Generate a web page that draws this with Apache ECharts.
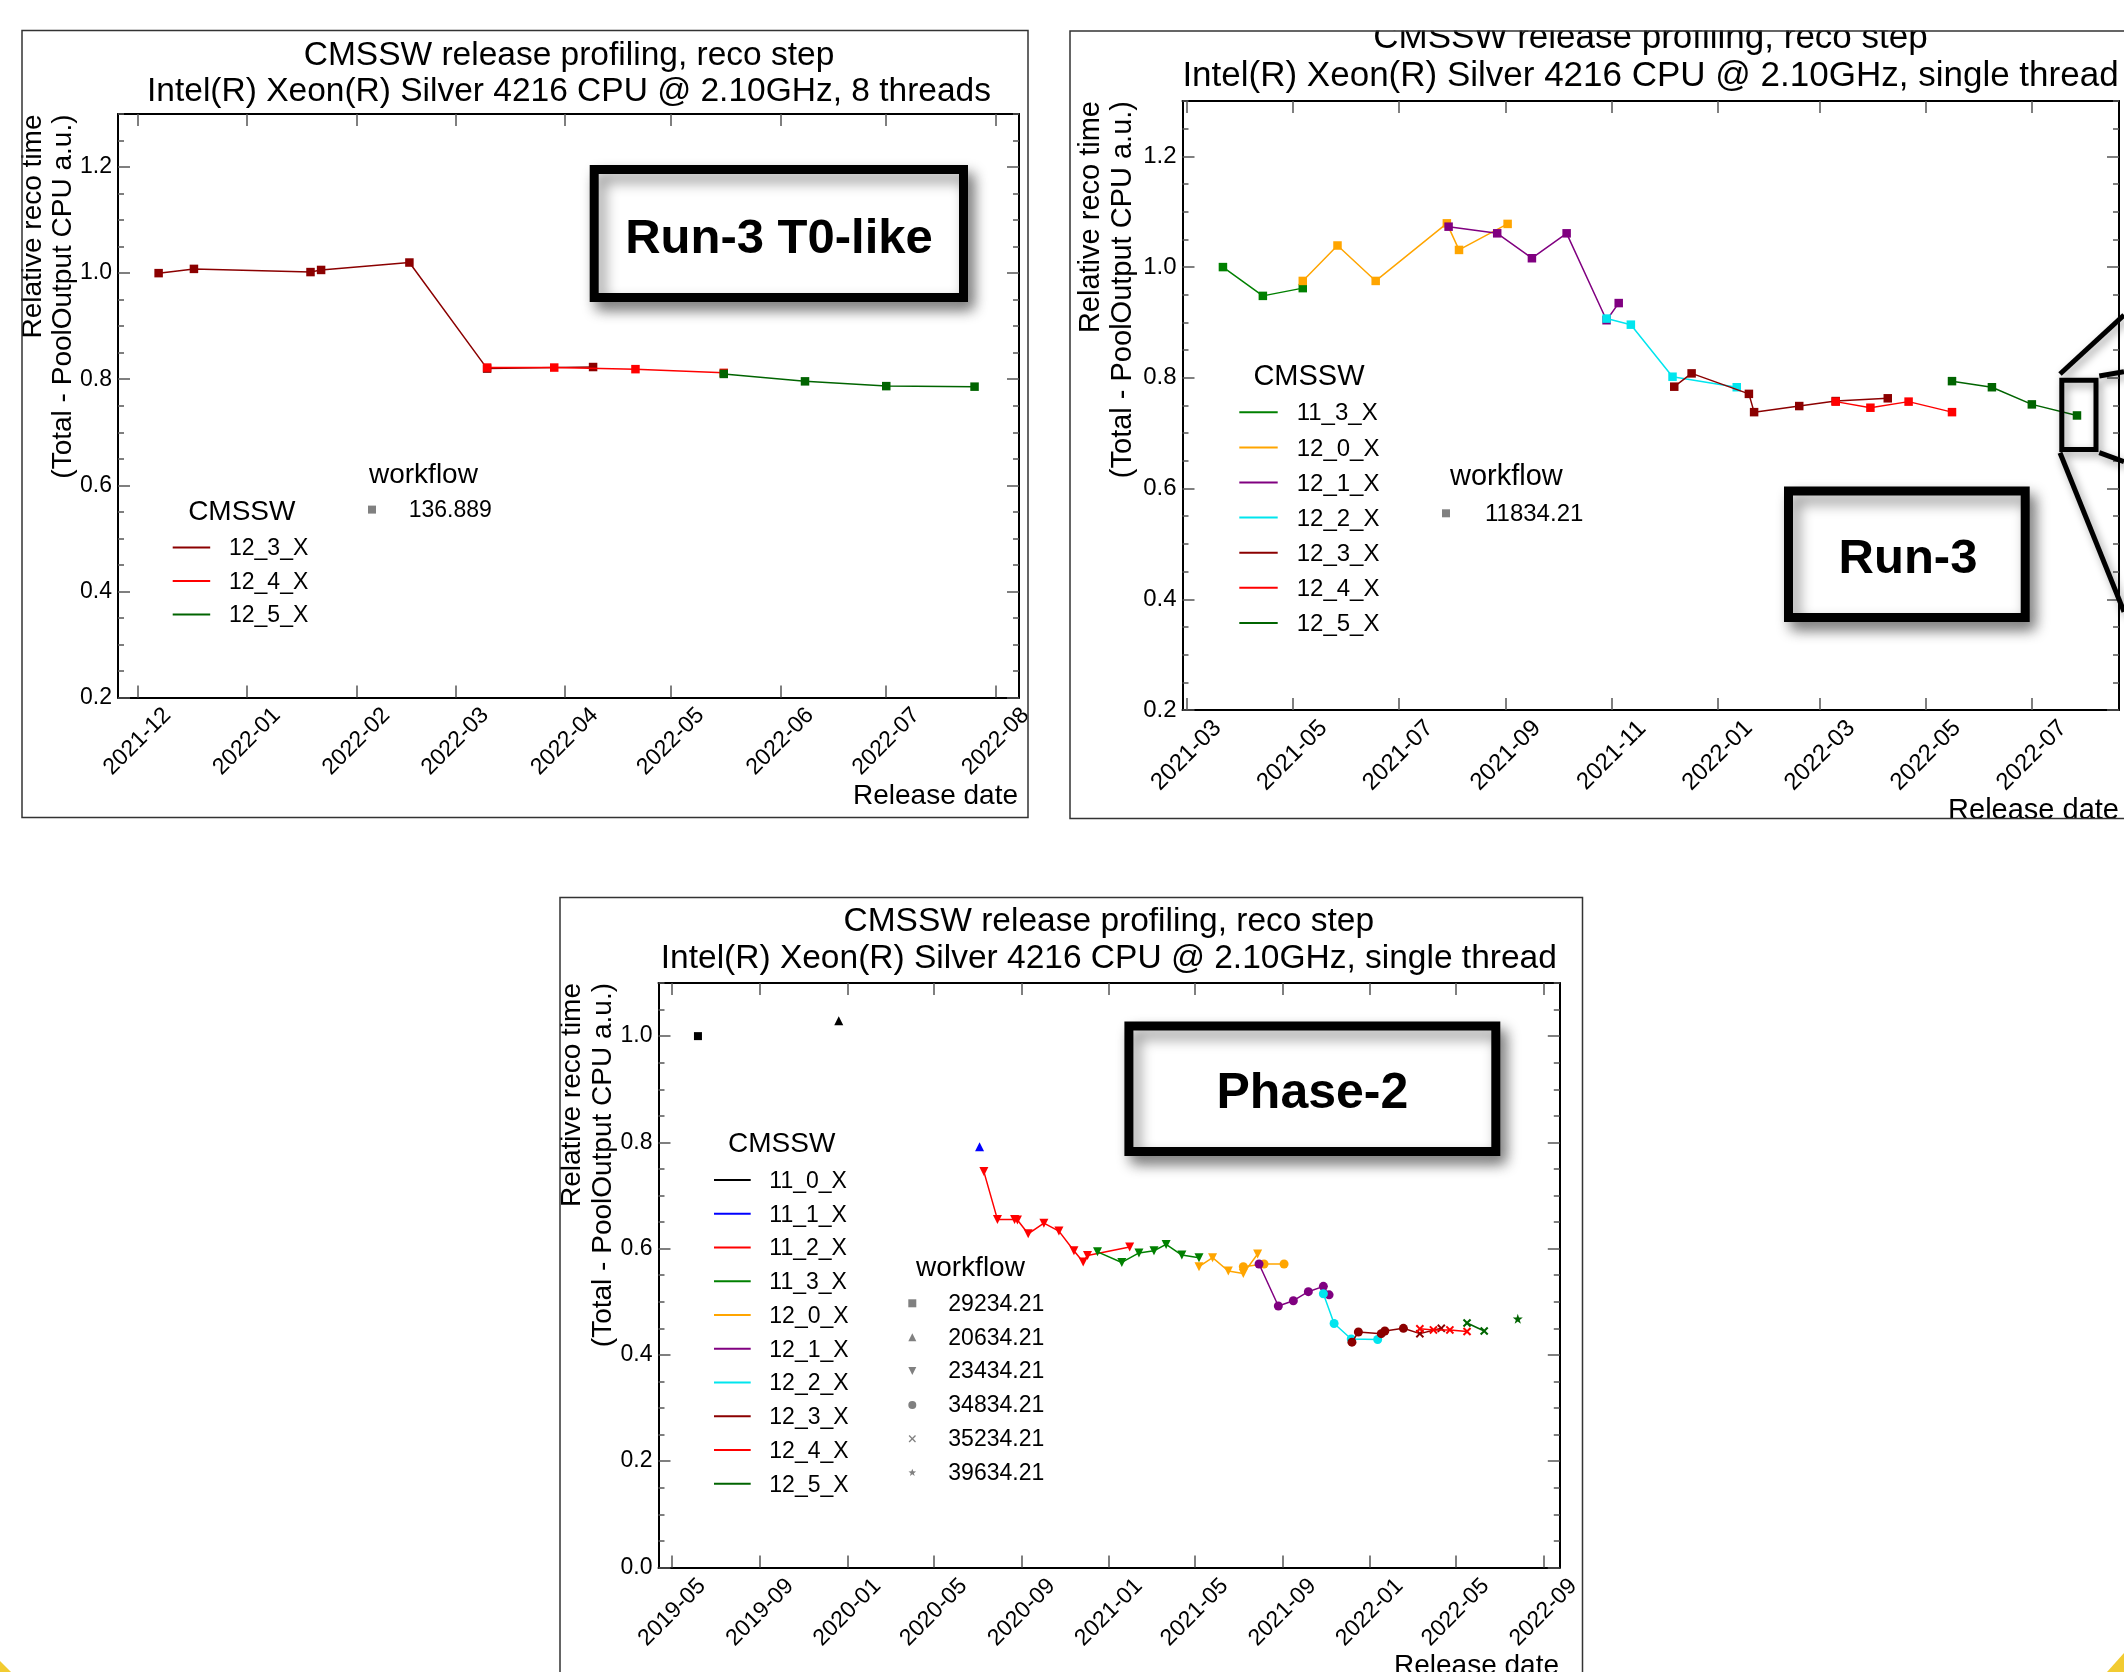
<!DOCTYPE html>
<html><head><meta charset="utf-8">
<script src="https://cdn.jsdelivr.net/npm/echarts@6/dist/echarts.min.js"></script>
<style>html,body{margin:0;padding:0;background:#fff}#c{width:2124px;height:1672px}</style>
</head><body><div id="c"></div>
<script>
// ---------------- DATA ----------------
// Panel 1: Run-3 T0-like, 8 threads (workflow 136.889)
const t0Releases = ['12_3_X', '12_4_X', '12_5_X'];
const t0Workflows = ['136.889'];
const t0XTicks = ['2021-12-01','2022-01-01','2022-02-01','2022-03-01','2022-04-01','2022-05-01','2022-06-01','2022-07-01','2022-08-01'];
const t0YTicks = [0.2, 0.4, 0.6, 0.8, 1.0, 1.2];
const t0_12_3_X = [['2021-12-07',1.000],['2021-12-17',1.008],['2022-01-19',1.002],['2022-01-22',1.006],['2022-02-16',1.020],['2022-03-10',0.820],['2022-04-09',0.823]];
const t0_12_4_X = [['2022-03-10',0.822],['2022-03-29',0.822],['2022-04-21',0.819],['2022-05-16',0.812]];
const t0_12_5_X = [['2022-05-16',0.810],['2022-06-08',0.796],['2022-07-01',0.787],['2022-07-26',0.786]];

// Panel 2: Run-3, single thread (workflow 11834.21)
const r3Releases = ['11_3_X','12_0_X','12_1_X','12_2_X','12_3_X','12_4_X','12_5_X'];
const r3Workflows = ['11834.21'];
const r3XTicks = ['2021-03-01','2021-05-01','2021-07-01','2021-09-01','2021-11-01','2022-01-01','2022-03-01','2022-05-01','2022-07-01'];
const r3YTicks = [0.2, 0.4, 0.6, 0.8, 1.0, 1.2];
const r3_11_3_X = [['2021-03-22',1.000],['2021-04-14',0.948],['2021-05-07',0.962]];
const r3_12_0_X = [['2021-05-07',0.975],['2021-05-27',1.039],['2021-06-18',0.975],['2021-07-29',1.079],['2021-08-05',1.031],['2021-09-02',1.078]];
const r3_12_1_X = [['2021-07-30',1.073],['2021-08-27',1.061],['2021-09-16',1.016],['2021-10-06',1.061],['2021-10-29',0.904],['2021-11-05',0.935]];
const r3_12_2_X = [['2021-10-29',0.907],['2021-11-12',0.896],['2021-12-06',0.802],['2022-01-12',0.783]];
const r3_12_3_X = [['2021-12-07',0.784],['2021-12-17',0.808],['2022-01-19',0.771],['2022-01-22',0.738],['2022-02-17',0.749],['2022-03-10',0.758],['2022-04-09',0.763]];
const r3_12_4_X = [['2022-03-10',0.757],['2022-03-30',0.746],['2022-04-21',0.757],['2022-05-16',0.738]];
const r3_12_5_X = [['2022-05-16',0.794],['2022-06-08',0.783],['2022-07-01',0.752],['2022-07-27',0.732]];

// Panel 3: Phase-2, single thread; third field = workflow index
const ph2Releases = ['11_0_X','11_1_X','11_2_X','11_3_X','12_0_X','12_1_X','12_2_X','12_3_X','12_4_X','12_5_X'];
const ph2Workflows = ['29234.21','20634.21','23434.21','34834.21','35234.21','39634.21'];
const ph2XTicks = ['2019-05-01','2019-09-01','2020-01-01','2020-05-01','2020-09-01','2021-01-01','2021-05-01','2021-09-01','2022-01-01','2022-05-01','2022-09-01'];
const ph2YTicks = [0.0, 0.2, 0.4, 0.6, 0.8, 1.0];
const ph2_11_0_X_a = [['2019-06-06',1.000,0]];
const ph2_11_0_X_b = [['2019-12-20',1.029,1]];
const ph2_11_1_X = [['2020-07-04',0.792,1]];
const ph2_11_2_X = [['2020-07-10',0.745,2],['2020-07-29',0.655,2],['2020-08-22',0.655,2],['2020-08-26',0.654,2],['2020-09-10',0.628,2],['2020-10-02',0.648,2],['2020-10-23',0.633,2],['2020-11-13',0.596,2],['2020-11-26',0.575,2],['2020-12-02',0.587,2],['2021-01-30',0.603,2]];
const ph2_11_3_X = [['2020-12-16',0.594,2],['2021-01-19',0.574,2],['2021-02-12',0.592,2],['2021-03-05',0.596,2],['2021-03-22',0.608,2],['2021-04-13',0.588,2],['2021-05-07',0.583,2]];
const ph2_12_0_X_a = [['2021-05-07',0.566,2],['2021-05-26',0.583,2],['2021-06-17',0.558,2],['2021-07-08',0.553,2],['2021-07-28',0.590,2]];
const ph2_12_0_X_b = [['2021-07-08',0.566,3],['2021-08-06',0.571,3],['2021-09-03',0.571,3]];
const ph2_12_1_X = [['2021-07-30',0.571,3],['2021-08-26',0.492,3],['2021-09-16',0.502,3],['2021-10-07',0.519,3],['2021-10-28',0.529,3],['2021-11-05',0.513,3]];
const ph2_12_2_X = [['2021-10-28',0.515,3],['2021-11-12',0.459,3],['2021-12-06',0.430,3],['2022-01-12',0.429,3]];
const ph2_12_3_X = [['2021-12-07',0.424,3],['2021-12-16',0.443,3],['2022-01-17',0.440,3],['2022-01-22',0.445,3],['2022-02-17',0.450,3],['2022-03-12',0.440,4],['2022-04-11',0.450,4]];
const ph2_12_4_X = [['2022-03-12',0.449,4],['2022-03-31',0.447,4],['2022-04-23',0.447,4],['2022-05-17',0.444,4]];
const ph2_12_5_X_a = [['2022-05-17',0.460,4],['2022-06-10',0.445,4]];
const ph2_12_5_X_b = [['2022-07-27',0.468,5]];

// ---------------- STYLE ----------------
const FONT = '"Liberation Sans", Arial, Helvetica, sans-serif';
const COLORS = {'11_0_X':'#000000','11_1_X':'#0000ff','11_2_X':'#ff0000','11_3_X':'#008000','12_0_X':'#ffa500','12_1_X':'#800080','12_2_X':'#00e5ee','12_3_X':'#8b0000','12_4_X':'#ff0000','12_5_X':'#006400'};
const GRAY = '#808080';
const CROSS = 'path://M4,0H6V4H10V6H6V10H4V6H0V4H4Z';
const STAR = 'path://M50,0L61.8,35.1L98.8,35.1L68.9,56.9L80.3,92L50,70.5L19.7,92L31.1,56.9L1.2,35.1L38.2,35.1Z';
const WF_SYM = [
  {symbol:'rect', size:8, rot:0},
  {symbol:'triangle', size:9, rot:0},
  {symbol:'triangle', size:9, rot:180},
  {symbol:'circle', size:9, rot:0},
  {symbol:CROSS, size:10, rot:45},
  {symbol:STAR, size:10, rot:0}
];

// date string 'YYYY-MM-DD[ HH:mm]' -> UTC ms
function ts(s) {
  const parts = s.split(' ');
  const d = parts[0].split('-').map(Number);
  let h = 0, m = 0;
  if (parts[1]) { const t = parts[1].split(':').map(Number); h = t[0]; m = t[1] || 0; }
  return Date.UTC(d[0], d[1] - 1, d[2], h, m);
}
function fmtMonth(v) {
  const d = new Date(v);
  return d.getUTCFullYear() + '-' + String(d.getUTCMonth() + 1).padStart(2, '0');
}

const PANELS = [
  {grid:{left:118, top:114, width:901, height:583.5}, xmin:'2021-11-25 12:00', xmax:'2022-08-07 14:00', xticks:t0XTicks, ymin:0.2, ymax:1.3, yticks:t0YTicks, fs:23, margin:44},
  {grid:{left:1182.5, top:101, width:936.5, height:609}, xmin:'2021-02-26 17:00', xmax:'2022-08-20 05:00', xticks:r3XTicks, ymin:0.2, ymax:1.3, yticks:r3YTicks, fs:24, margin:45.5},
  {grid:{left:658.5, top:983, width:901.3, height:584.4}, xmin:'2019-04-11 19:00', xmax:'2022-09-23 19:00', xticks:ph2XTicks, ymin:0, ymax:1.1, yticks:ph2YTicks, fs:23, margin:45}
];

const TICK_LINE = {color:'#555', width:1.5};
const AXIS_LINE = {color:'#000', width:2};

const grids = [], xAxes = [], yAxes = [];
PANELS.forEach((p, gi) => {
  grids.push(Object.assign({outerBoundsMode:'none', containLabel:false}, p.grid));
  const xt = p.xticks.map(ts);
  const xc = {type:'value', gridIndex:gi, min:ts(p.xmin), max:ts(p.xmax), scale:true, splitLine:{show:false}, minorTick:{show:false},
    axisLine:{show:true, onZero:false, lineStyle:AXIS_LINE},
    axisTick:{show:true, inside:true, length:12, customValues:xt, lineStyle:TICK_LINE}};
  xAxes.push(Object.assign({}, xc, {position:'bottom', axisLabel:{show:true, customValues:xt, rotate:45, align:'center', verticalAlign:'middle', margin:p.margin, formatter:fmtMonth, fontSize:p.fs, fontFamily:FONT, color:'#000', hideOverlap:false}}));
  xAxes.push(Object.assign({}, xc, {position:'top', axisLabel:{show:false}}));
  const yb = {type:'value', gridIndex:gi, min:p.ymin, max:p.ymax, splitLine:{show:false}, minorTick:{show:false}};
  const major = {axisLine:{show:true, onZero:false, lineStyle:AXIS_LINE}, axisTick:{show:true, inside:true, length:12, customValues:p.yticks, lineStyle:TICK_LINE}};
  const minor = {interval:0.05, axisLine:{show:false, onZero:false}, axisTick:{show:true, inside:true, length:6, lineStyle:TICK_LINE}, axisLabel:{show:false}};
  yAxes.push(Object.assign({}, yb, major, {position:'left', axisLabel:{show:true, customValues:p.yticks, formatter:v => v.toFixed(1), fontSize:p.fs, fontFamily:FONT, color:'#000', margin:6}}));
  yAxes.push(Object.assign({}, yb, minor, {position:'left'}));
  yAxes.push(Object.assign({}, yb, major, {position:'right', axisLabel:{show:false}}));
  yAxes.push(Object.assign({}, yb, minor, {position:'right'}));
});

const series = [];
function addSimple(gi, rel, arr, z) {
  const c = COLORS[rel];
  series.push({type:'line', name:rel, xAxisIndex:gi*2, yAxisIndex:gi*4, data:arr.map(d => [ts(d[0]), d[1]]),
    symbol:'rect', symbolSize:8.5, showSymbol:true, itemStyle:{color:c}, lineStyle:{color:c, width:1.5},
    silent:true, animation:false, z:z});
}
function addPh2(rel, arr, z) {
  const c = COLORS[rel];
  series.push({type:'line', name:rel, xAxisIndex:4, yAxisIndex:8,
    data:arr.map(d => ({value:[ts(d[0]), d[1]], symbol:WF_SYM[d[2]].symbol, symbolSize:WF_SYM[d[2]].size, symbolRotate:WF_SYM[d[2]].rot})),
    showSymbol:true, itemStyle:{color:c}, lineStyle:{color:c, width:1.5}, silent:true, animation:false, z:z});
}
[[ '12_3_X', t0_12_3_X ], [ '12_4_X', t0_12_4_X ], [ '12_5_X', t0_12_5_X ]].forEach((s, i) => addSimple(0, s[0], s[1], 3 + i));
[[ '11_3_X', r3_11_3_X ], [ '12_0_X', r3_12_0_X ], [ '12_1_X', r3_12_1_X ], [ '12_2_X', r3_12_2_X ], [ '12_3_X', r3_12_3_X ], [ '12_4_X', r3_12_4_X ], [ '12_5_X', r3_12_5_X ]].forEach((s, i) => addSimple(1, s[0], s[1], 3 + i));
[[ '11_0_X', ph2_11_0_X_a ], [ '11_0_X', ph2_11_0_X_b ], [ '11_1_X', ph2_11_1_X ], [ '11_2_X', ph2_11_2_X ], [ '11_3_X', ph2_11_3_X ],
 [ '12_0_X', ph2_12_0_X_a ], [ '12_0_X', ph2_12_0_X_b ], [ '12_1_X', ph2_12_1_X ], [ '12_2_X', ph2_12_2_X ], [ '12_3_X', ph2_12_3_X ],
 [ '12_4_X', ph2_12_4_X ], [ '12_5_X', ph2_12_5_X_a ], [ '12_5_X', ph2_12_5_X_b ]].forEach((s, i) => addPh2(s[0], s[1], 3 + i));

// ---------------- GRAPHIC (titles, labels, legends, boxes) ----------------
const G = [];
function txt(x, y, text, size, opt) {
  opt = opt || {};
  G.push({type:'text', x:x, y:y, rotation:opt.rot || 0, z:opt.z || 50,
    style:{text:text, fontSize:size, fontFamily:FONT, fontWeight:opt.weight || 'normal', fill:'#000', align:opt.align || 'left', verticalAlign:'middle'}});
}
// panel borders + masks
G.push({type:'rect', z:60, shape:{x:1068, y:0, width:1060, height:30.5}, style:{fill:'#fff'}});
G.push({type:'rect', z:60, shape:{x:1068, y:818.5, width:1060, height:14}, style:{fill:'#fff'}});
G.push({type:'rect', z:61, shape:{x:22, y:30.5, width:1006, height:787}, style:{fill:'none', stroke:'#333', lineWidth:1.5}});
G.push({type:'rect', z:61, shape:{x:1070, y:31, width:1070, height:787.5}, style:{fill:'none', stroke:'#333', lineWidth:1.5}});
G.push({type:'rect', z:61, shape:{x:560, y:897.5, width:1022.5, height:800}, style:{fill:'none', stroke:'#333', lineWidth:1.5}});

// titles
const TITLE1 = 'CMSSW release profiling, reco step';
txt(569, 56, TITLE1, 33.5, {align:'center'});
txt(569, 92, 'Intel(R) Xeon(R) Silver 4216 CPU @ 2.10GHz, 8 threads', 33.5, {align:'center'});
txt(1650.5, 38, TITLE1, 35, {align:'center'});
txt(1650.5, 76.5, 'Intel(R) Xeon(R) Silver 4216 CPU @ 2.10GHz, single thread', 35, {align:'center'});
txt(1108.8, 921.5, TITLE1, 33.5, {align:'center'});
txt(1108.8, 959, 'Intel(R) Xeon(R) Silver 4216 CPU @ 2.10GHz, single thread', 33.5, {align:'center'});

// axis names
const YN1 = 'Relative reco time', YN2 = '(Total - PoolOutput CPU a.u.)';
[[33, 63, 114.5, 28], [1091, 1123, 101, 29], [572.5, 603, 983, 28]].forEach(a => {
  txt(a[0], a[2], YN1, a[3], {rot:Math.PI / 2, align:'right'});
  txt(a[1], a[2], YN2, a[3], {rot:Math.PI / 2, align:'right'});
});
txt(1018, 796, 'Release date', 28, {align:'right'});
txt(2119, 811, 'Release date', 29, {align:'right'});
txt(1559, 1666, 'Release date', 28, {align:'right'});

// legends
function wfMarker(cx, cy, k, s) {
  const h = s / 2;
  if (k === 0) G.push({type:'rect', z:50, shape:{x:cx - h, y:cy - h, width:s, height:s}, style:{fill:GRAY}});
  else if (k === 1) G.push({type:'polygon', z:50, shape:{points:[[cx, cy - h], [cx + h, cy + h], [cx - h, cy + h]]}, style:{fill:GRAY}});
  else if (k === 2) G.push({type:'polygon', z:50, shape:{points:[[cx - h, cy - h], [cx + h, cy - h], [cx, cy + h]]}, style:{fill:GRAY}});
  else if (k === 3) G.push({type:'circle', z:50, shape:{cx:cx, cy:cy, r:h}, style:{fill:GRAY}});
  else if (k === 4) {
    G.push({type:'line', z:50, shape:{x1:cx - h * 0.8, y1:cy - h * 0.8, x2:cx + h * 0.8, y2:cy + h * 0.8}, style:{stroke:GRAY, lineWidth:1.3}});
    G.push({type:'line', z:50, shape:{x1:cx - h * 0.8, y1:cy + h * 0.8, x2:cx + h * 0.8, y2:cy - h * 0.8}, style:{stroke:GRAY, lineWidth:1.3}});
  } else {
    const pts = [];
    for (let i = 0; i < 10; i++) {
      const r = i % 2 ? h * 0.42 : h;
      const a = -Math.PI / 2 + i * Math.PI / 5;
      pts.push([cx + r * Math.cos(a), cy + r * Math.sin(a)]);
    }
    G.push({type:'polygon', z:50, shape:{points:pts}, style:{fill:GRAY}});
  }
}
function legend(L) {
  txt(L.tx, L.ty, 'CMSSW', L.tfs, {align:'center'});
  L.rels.forEach((r, i) => {
    const y = L.y0 + i * L.dy;
    G.push({type:'line', z:50, shape:{x1:L.lx1, y1:y, x2:L.lx2, y2:y}, style:{stroke:COLORS[r], lineWidth:2}});
    txt(L.textX, y + 1.5, r, L.fs);
  });
  txt(L.wtx, L.wty, 'workflow', L.tfs);
  L.wfs.forEach((w, i) => {
    const y = L.wy0 + i * L.wdy;
    wfMarker(L.wmx, y, L.wsym[i], 8);
    txt(L.wtextX, y + 1, w, L.fs);
  });
}
legend({rels:t0Releases, tx:241.8, ty:512, tfs:28, fs:23, y0:547.4, dy:33.5, lx1:172.7, lx2:210.2, textX:229,
  wfs:t0Workflows, wsym:[0], wtx:369, wty:475, wy0:509.6, wdy:33.5, wmx:372, wtextX:408.7});
legend({rels:r3Releases, tx:1309, ty:376.5, tfs:29, fs:24, y0:412.3, dy:35.1, lx1:1239.3, lx2:1277.7, textX:1296.7,
  wfs:r3Workflows, wsym:[0], wtx:1450, wty:477, wy0:513.3, wdy:35.1, wmx:1446, wtextX:1485});
legend({rels:ph2Releases, tx:781.7, ty:1144.5, tfs:28, fs:23, y0:1180, dy:33.75, lx1:714, lx2:750.7, textX:769.3,
  wfs:ph2Workflows, wsym:[0, 1, 2, 3, 4, 5], wtx:916, wty:1268.5, wy0:1303.3, wdy:33.87, wmx:912.3, wtextX:948.3});

// annotation boxes
const SHADOW = {shadowBlur:14, shadowColor:'rgba(0,0,0,0.45)', shadowOffsetX:6, shadowOffsetY:8};
function box(x, y, w, h, label, cx, cy, size) {
  G.push({type:'rect', z:70, shape:{x:x, y:y, width:w, height:h}, style:Object.assign({fill:'#fff', stroke:'#000', lineWidth:9}, SHADOW)});
  txt(cx, cy, label, size, {align:'center', weight:'bold', z:71});
}
box(594.2, 169.5, 369.3, 128, 'Run-3 T0-like', 779, 239.5, 49);
box(1788.5, 491, 236.7, 126.5, 'Run-3', 1908, 559.5, 49);
box(1128.9, 1025.9, 366.9, 125.6, 'Phase-2', 1312.4, 1094, 50);

// zoom cue in panel 2
const cueStyle = {stroke:'#000', lineWidth:5, fill:'none', shadowBlur:8, shadowColor:'rgba(0,0,0,0.4)', shadowOffsetX:3, shadowOffsetY:4};
G.push({type:'rect', z:70, shape:{x:2061.8, y:380.2, width:34.2, height:69.3}, style:cueStyle});
[[2060, 374, 2124, 315], [2099.3, 376, 2124, 371.7], [2060, 452.7, 2124, 611.7], [2099.3, 452.7, 2124, 461.7]].forEach(l => {
  G.push({type:'line', z:70, shape:{x1:l[0], y1:l[1], x2:l[2], y2:l[3]}, style:cueStyle});
});
// slide corner decorations
G.push({type:'polygon', z:80, shape:{points:[[0, 1661], [0, 1672], [11, 1672]]}, style:{fill:'#f2cb30'}});
G.push({type:'polygon', z:80, shape:{points:[[2124, 1653], [2107, 1672], [2124, 1672]]}, style:{fill:'#f2cb30'}});

const chart = echarts.init(document.getElementById('c'), null, {renderer:'canvas'});
chart.setOption({
  animation:false,
  backgroundColor:'#fff',
  grid:grids, xAxis:xAxes, yAxis:yAxes, series:series,
  graphic:{elements:G}
});
</script></body></html>
